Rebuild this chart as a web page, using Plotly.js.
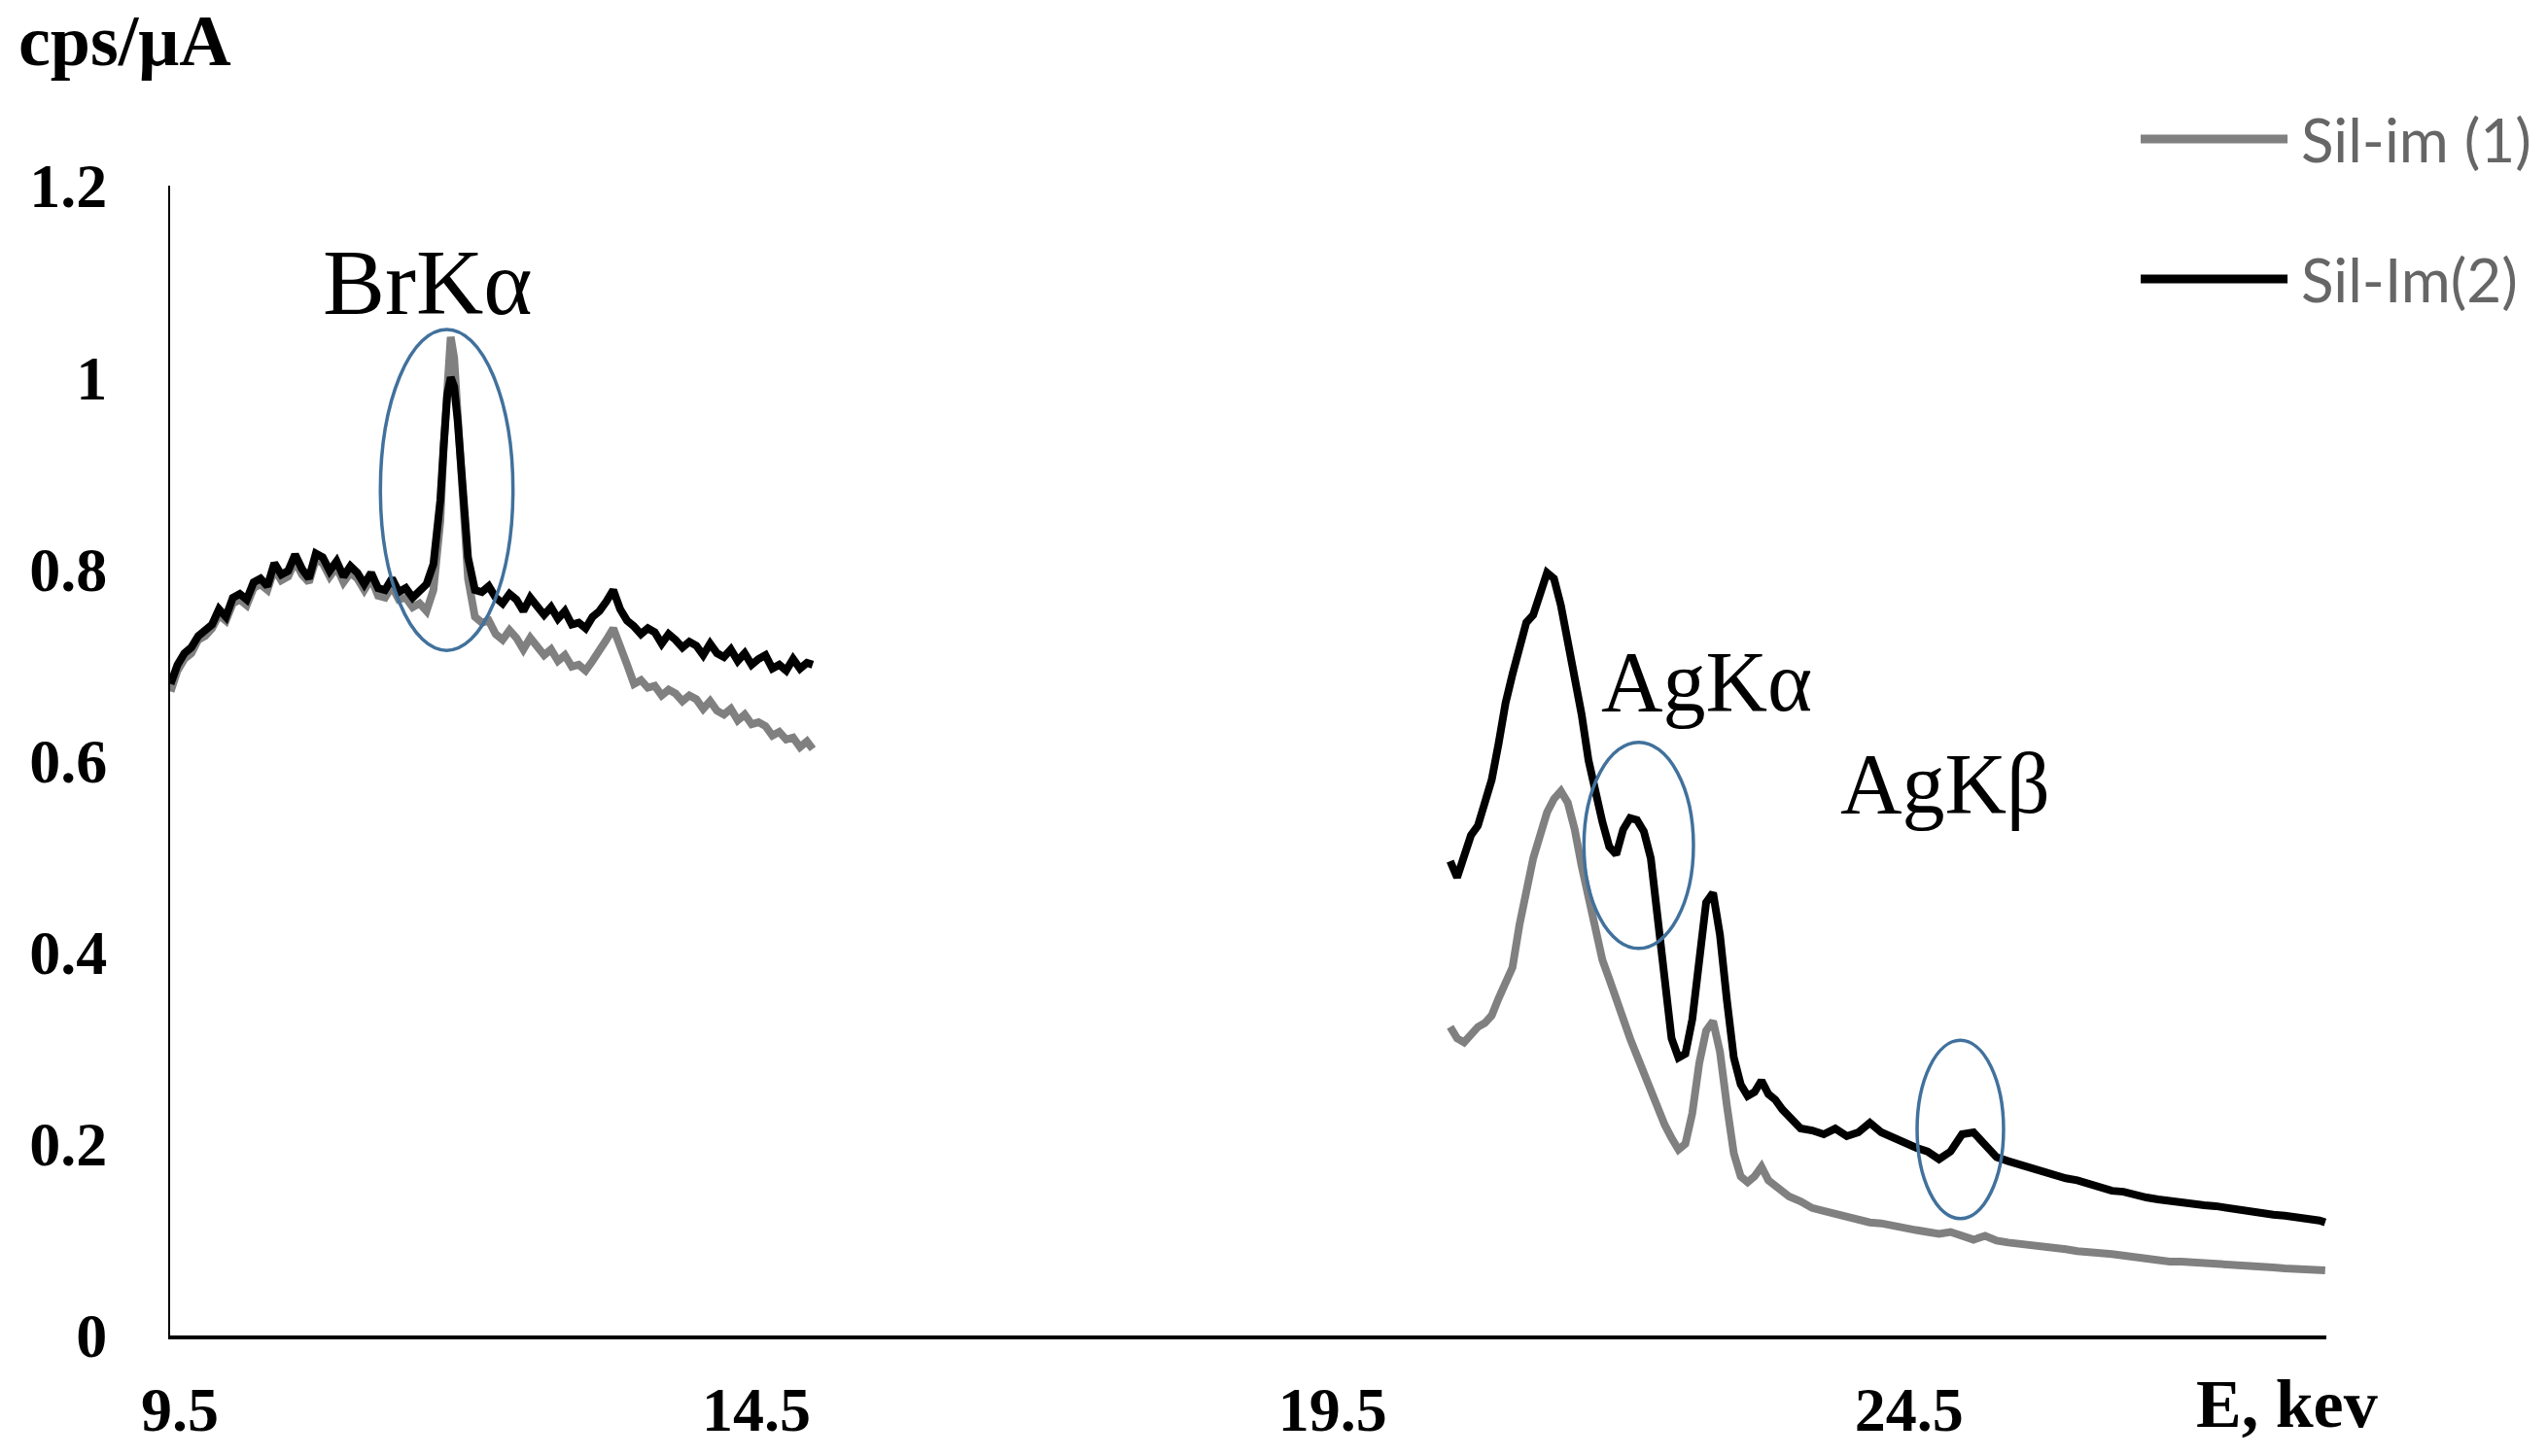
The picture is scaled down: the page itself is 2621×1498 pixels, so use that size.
<!DOCTYPE html>
<html>
<head>
<meta charset="utf-8">
<script src="https://cdn.plot.ly/plotly-3.0.1.min.js"></script>
<style>
  html, body { margin: 0; padding: 0; background: #fff; }
  #myGraph { width: 2621px; height: 1498px; }
</style>
</head>
<body>
<div id="myGraph"></div>
<script>
// energy channels, keV (low part: Br region, high part: Ag region)
let xLow = [
  9.42, 9.48, 9.54, 9.60, 9.66, 9.72, 9.78, 9.84, 9.90, 9.96,
  10.02, 10.08, 10.14, 10.20, 10.26, 10.32, 10.38, 10.44, 10.50, 10.56,
  10.62, 10.68, 10.74, 10.80, 10.86, 10.92, 10.98, 11.04, 11.10, 11.16,
  11.22, 11.28, 11.34, 11.40, 11.46, 11.52, 11.58, 11.64, 11.70, 11.76,
  11.79, 11.82, 11.85, 11.88, 11.91, 11.94, 12.00, 12.06, 12.12, 12.18,
  12.24, 12.30, 12.36, 12.42, 12.48, 12.54, 12.60, 12.66, 12.72, 12.78,
  12.84, 12.90, 12.96, 13.02, 13.08, 13.14, 13.20, 13.26, 13.32, 13.38,
  13.44, 13.50, 13.56, 13.62, 13.68, 13.74, 13.80, 13.86, 13.92, 13.98,
  14.04, 14.10, 14.16, 14.22, 14.28, 14.34, 14.40, 14.46, 14.52, 14.58,
  14.64, 14.70, 14.76, 14.82, 14.88, 14.94, 14.99
];
let xHigh = [
  20.52, 20.58, 20.64, 20.70, 20.76, 20.82, 20.88, 20.94, 21.00, 21.06,
  21.12, 21.18, 21.24, 21.30, 21.36, 21.42, 21.48, 21.54, 21.60, 21.66,
  21.72, 21.78, 21.84, 21.90, 21.96, 22.02, 22.08, 22.14, 22.20, 22.26,
  22.32, 22.38, 22.44, 22.50, 22.56, 22.62, 22.68, 22.74, 22.80, 22.86,
  22.92, 22.98, 23.04, 23.10, 23.16, 23.22, 23.28, 23.34, 23.40, 23.46,
  23.56, 23.66, 23.76, 23.86, 23.96, 24.06, 24.16, 24.26, 24.36, 24.46,
  24.56, 24.66, 24.76, 24.86, 24.96, 25.06, 25.16, 25.26, 25.36, 25.46,
  25.56, 25.66, 25.76, 25.86, 25.96, 26.06, 26.16, 26.26, 26.36, 26.46,
  26.56, 26.66, 26.76, 26.86, 26.96, 27.06, 27.16, 27.26, 27.36, 27.46,
  27.56, 27.66, 27.76, 27.86, 27.96, 28.06, 28.11
];

// Sil-im (1), grey
let sil1Low = [
  0.672, 0.694, 0.706, 0.712, 0.726, 0.730, 0.738, 0.752, 0.746, 0.764,
  0.768, 0.762, 0.780, 0.784, 0.778, 0.800, 0.788, 0.792, 0.808, 0.794,
  0.786, 0.810, 0.806, 0.792, 0.802, 0.786, 0.796, 0.790, 0.778, 0.790,
  0.772, 0.770, 0.782, 0.768, 0.770, 0.760, 0.764, 0.756, 0.778, 0.850,
  0.930, 1.000, 1.042, 1.020, 0.960, 0.890, 0.790, 0.750, 0.744, 0.746,
  0.732, 0.726, 0.736, 0.728, 0.716, 0.728, 0.718, 0.710, 0.716, 0.704,
  0.710, 0.698, 0.700, 0.694, 0.704, 0.714, 0.726, 0.738, 0.716, 0.700,
  0.680, 0.684, 0.676, 0.678, 0.668, 0.674, 0.670, 0.662, 0.668, 0.664,
  0.654, 0.662, 0.652, 0.648, 0.654, 0.642, 0.648, 0.638, 0.640, 0.636,
  0.626, 0.630, 0.622, 0.624, 0.614, 0.620, 0.612
];
let sil1High = [
  0.322, 0.310, 0.306, 0.314, 0.322, 0.326, 0.334, 0.352, 0.368, 0.384,
  0.428, 0.468, 0.498, 0.522, 0.546, 0.560, 0.568, 0.556, 0.528, 0.490,
  0.456, 0.418, 0.392, 0.372, 0.350, 0.330, 0.310, 0.292, 0.274, 0.256,
  0.236, 0.220, 0.206, 0.194, 0.200, 0.232, 0.284, 0.318, 0.328, 0.296,
  0.240, 0.190, 0.166, 0.160, 0.166, 0.176, 0.162, 0.156, 0.150, 0.145,
  0.140, 0.133, 0.130, 0.127, 0.122, 0.121, 0.118, 0.117, 0.114, 0.113,
  0.110, 0.108, 0.106, 0.108, 0.103, 0.100, 0.104, 0.099, 0.097, 0.096,
  0.094, 0.093, 0.091, 0.090, 0.088, 0.088, 0.086, 0.085, 0.083, 0.081,
  0.080, 0.079, 0.077, 0.077, 0.076, 0.076, 0.075, 0.074, 0.072, 0.071,
  0.071, 0.071, 0.070, 0.070, 0.069, 0.069, 0.068
];

// Sil-Im(2), black
let sil2Low = [
  0.680, 0.700, 0.712, 0.718, 0.730, 0.736, 0.742, 0.758, 0.750, 0.770,
  0.774, 0.768, 0.786, 0.790, 0.782, 0.806, 0.794, 0.798, 0.815, 0.800,
  0.790, 0.816, 0.812, 0.798, 0.808, 0.792, 0.803, 0.796, 0.784, 0.796,
  0.780, 0.778, 0.790, 0.776, 0.780, 0.770, 0.778, 0.784, 0.805, 0.872,
  0.930, 0.982, 1.000, 0.990, 0.955, 0.905, 0.812, 0.778, 0.776, 0.782,
  0.770, 0.764, 0.774, 0.768, 0.756, 0.770, 0.760, 0.752, 0.760, 0.748,
  0.756, 0.742, 0.744, 0.738, 0.750, 0.756, 0.766, 0.778, 0.758, 0.746,
  0.740, 0.732, 0.738, 0.734, 0.722, 0.732, 0.726, 0.718, 0.724, 0.720,
  0.710, 0.722, 0.712, 0.708, 0.716, 0.704, 0.712, 0.700, 0.706, 0.710,
  0.696, 0.700, 0.694, 0.706, 0.696, 0.702, 0.700
];
let sil2High = [
  0.495, 0.478, 0.500, 0.522, 0.532, 0.556, 0.580, 0.618, 0.660, 0.690,
  0.716, 0.744, 0.752, 0.776, 0.796, 0.790, 0.762, 0.724, 0.688, 0.648,
  0.600, 0.566, 0.536, 0.510, 0.502, 0.528, 0.540, 0.538, 0.526, 0.498,
  0.430, 0.360, 0.310, 0.290, 0.294, 0.330, 0.400, 0.452, 0.462, 0.418,
  0.350, 0.290, 0.262, 0.250, 0.254, 0.266, 0.252, 0.246, 0.236, 0.228,
  0.216, 0.214, 0.210, 0.216, 0.208, 0.212, 0.222, 0.212, 0.206, 0.200,
  0.196, 0.192, 0.184, 0.192, 0.210, 0.212, 0.198, 0.186, 0.182, 0.178,
  0.175, 0.170, 0.168, 0.164, 0.162, 0.158, 0.155, 0.151, 0.150, 0.146,
  0.144, 0.142, 0.140, 0.138, 0.137, 0.136, 0.135, 0.133, 0.130, 0.128,
  0.127, 0.126, 0.125, 0.124, 0.122, 0.120, 0.118
];

let xTickVals = [9.5, 14.5, 19.5, 24.5];
let xTickText = ['9.5', '14.5', '19.5', '24.5'];
let yTickVals = [0, 0.2, 0.4, 0.6, 0.8, 1, 1.2];
let yTickText = ['0', '0.2', '0.4', '0.6', '0.8', '1', '1.2'];

// the two measured windows are drawn as one trace with a gap between them
function joinParts(a, b) {
    return a.concat([null], b);
}
let xAll = joinParts(xLow, xHigh);

let myGraph = document.getElementById('myGraph');

let trace1 = {
    type: 'scatter',
    mode: 'lines',
    name: 'Sil-im (1)',
    x: xAll,
    y: joinParts(sil1Low, sil1High),
    line: { color: '#808080', width: 8 },
    connectgaps: false
};

let trace2 = {
    type: 'scatter',
    mode: 'lines',
    name: 'Sil-Im(2)',
    x: xAll,
    y: joinParts(sil2Low, sil2High),
    line: { color: '#000000', width: 8 },
    connectgaps: false
};

let data = [];
data.push(trace1);
data.push(trace2);

let serifFamily = 'Liberation Serif, Times New Roman, serif';
let serifBold = { family: serifFamily, size: 64, color: '#000', weight: 'bold' };
let legendFont = { family: 'Lato, Open Sans, sans-serif', size: 62, color: '#666666' };
let ringColor = '#41719c';

let layout = {
    width: 2621,
    height: 1498,
    margin: { l: 175, r: 228, t: 191, b: 124 },
    paper_bgcolor: '#ffffff',
    plot_bgcolor: '#ffffff',
    showlegend: false,
    xaxis: {
        range: [9.416, 28.12],
        tickmode: 'array',
        tickvals: xTickVals,
        ticktext: xTickText,
        ticks: '',
        showgrid: false,
        zeroline: false,
        showline: true,
        linecolor: '#000',
        linewidth: 3.5,
        tickfont: serifBold,
        ticklabelstandoff: 18
    },
    yaxis: {
        range: [0, 1.2],
        tickmode: 'array',
        tickvals: yTickVals,
        ticktext: yTickText,
        ticks: '',
        showgrid: false,
        zeroline: false,
        showline: true,
        linecolor: '#000',
        linewidth: 2,
        tickfont: serifBold,
        ticklabelstandoff: 50
    },
    shapes: [
        // rings round the peaks
        { type: 'circle', xref: 'x', yref: 'y', x0: 11.24, x1: 12.39, y0: 0.715, y1: 1.050, line: { color: ringColor, width: 3.5 } },
        { type: 'circle', xref: 'x', yref: 'y', x0: 21.68, x1: 22.63, y0: 0.404, y1: 0.619, line: { color: ringColor, width: 3.5 } },
        { type: 'circle', xref: 'x', yref: 'y', x0: 24.57, x1: 25.32, y0: 0.122, y1: 0.308, line: { color: ringColor, width: 3.5 } },
        // legend samples
        { type: 'line', xref: 'paper', yref: 'paper', x0: 0.9139, x1: 0.9820, y0: 1.0406, y1: 1.0406, line: { color: '#808080', width: 9 } },
        { type: 'line', xref: 'paper', yref: 'paper', x0: 0.9139, x1: 0.9820, y0: 0.9189, y1: 0.9189, line: { color: '#000000', width: 9 } }
    ],
    annotations: [
        { text: 'cps/μA', xref: 'paper', yref: 'paper', x: -0.0712, y: 1.126, xanchor: 'left', yanchor: 'middle', showarrow: false, font: { family: serifFamily, size: 74, color: '#000', weight: 'bold' } },
        { text: 'E, kev', xref: 'paper', yref: 'paper', x: 0.9387, y: -0.0592, xanchor: 'left', yanchor: 'middle', showarrow: false, font: { family: serifFamily, size: 70, color: '#000', weight: 'bold' } },
        { text: 'BrKα', xref: 'x', yref: 'y', x: 10.72, y: 1.099, xanchor: 'left', yanchor: 'middle', showarrow: false, font: { family: serifFamily, size: 96, color: '#000' } },
        { text: 'AgKα', xref: 'x', yref: 'y', x: 21.81, y: 0.682, xanchor: 'left', yanchor: 'middle', showarrow: false, font: { family: serifFamily, size: 88, color: '#000' } },
        { text: 'AgKβ', xref: 'x', yref: 'y', x: 23.89, y: 0.576, xanchor: 'left', yanchor: 'middle', showarrow: false, font: { family: serifFamily, size: 88, color: '#000' } },
        { text: 'Sil-im (1)', xref: 'paper', yref: 'paper', x: 0.9874, y: 1.0406, xanchor: 'left', yanchor: 'middle', showarrow: false, font: legendFont },
        { text: 'Sil-Im(2)', xref: 'paper', yref: 'paper', x: 0.9874, y: 0.9189, xanchor: 'left', yanchor: 'middle', showarrow: false, font: legendFont }
    ]
};

Plotly.newPlot(myGraph, data, layout, { staticPlot: true });
</script>
</body>
</html>
